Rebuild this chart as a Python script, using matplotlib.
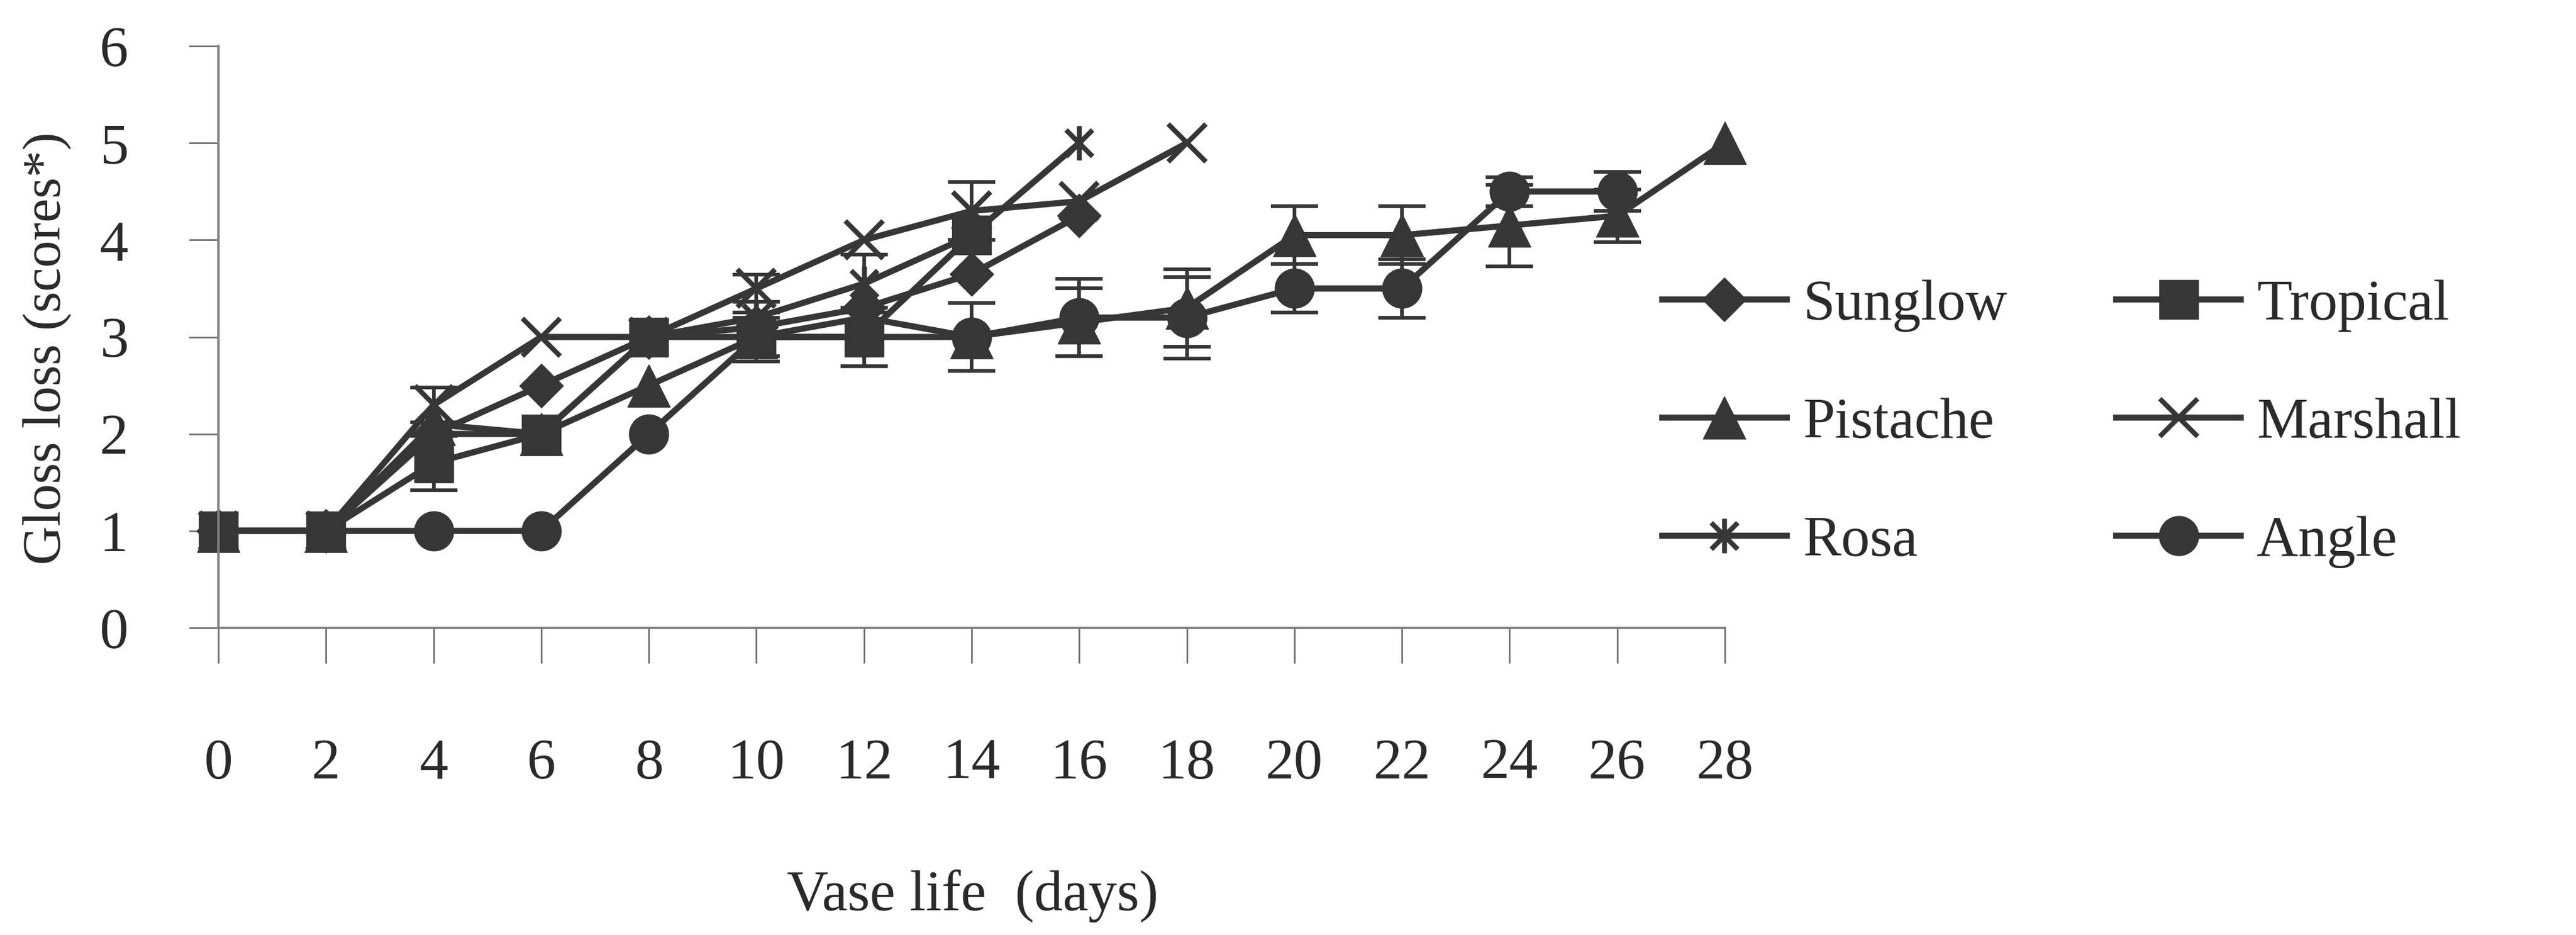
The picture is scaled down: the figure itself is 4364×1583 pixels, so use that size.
import numpy as np
import matplotlib.pyplot as plt
from matplotlib.path import Path

plt.rcParams['font.family'] = ['Liberation Serif', 'DejaVu Serif']

# vase life (days)
days = [0, 2, 4, 6, 8, 10, 12, 14, 16, 18, 20, 22, 24, 26, 28]

sunglow = [1, 1, 2.0, 2.5, 3.0, 3.1, 3.3, 3.65, 4.25]
tropical = [1, 1, 1.7, 2.0, 3.0, 3.0, 3.0, 4.05]
pistache = [1, 1, 2.1, 2.0, 2.5, 3.0, 3.2, 3.0, 3.15, 3.3, 4.05, 4.05, 4.15, 4.25, 5.0]
marshall = [1, 1, 2.3, 3.0, 3.0, 3.5, 4.0, 4.3, 4.4, 5.0]
rosa = [1, 1, 2.0, 2.0, 3.0, 3.2, 3.55, 4.05, 5.0]
angle = [1, 1, 1, 1, 2.0, 3.0, 3.0, 3.0, 3.2, 3.2, 3.5, 3.5, 4.5, 4.5]

# error bars (0 = none drawn)
sunglow_err = [0, 0, 0, 0, 0, 0, 0, 0, 0]
tropical_err = [0, 0, 0.28, 0, 0, 0.2, 0.3, 0]
pistache_err = [0, 0, 0, 0, 0, 0, 0, 0, 0.35, 0.4, 0.3, 0.3, 0.42, 0.27, 0]
marshall_err = [0, 0, 0.18, 0, 0, 0.14, 0, 0.3, 0, 0]
rosa_err = [0, 0, 0, 0, 0, 0, 0.3, 0, 0]
angle_err = [0, 0, 0, 0, 0, 0.25, 0.3, 0.35, 0.4, 0.42, 0.25, 0.3, 0.15, 0.2]

names = ['Sunglow', 'Tropical', 'Pistache', 'Marshall', 'Rosa', 'Angle']

# asterisk marker: an x plus a vertical bar
star = Path([(-1, -1), (1, 1), (-1, 1), (1, -1), (0, -1.3), (0, 1.3)],
            [Path.MOVETO, Path.LINETO, Path.MOVETO, Path.LINETO, Path.MOVETO, Path.LINETO])

col = '#363636'
styles = {
    'Sunglow': dict(marker='D', ms=38, mfc=col, mec=col),
    'Tropical': dict(marker='s', ms=48, mfc=col, mec=col),
    'Pistache': dict(marker='^', ms=52, mfc=col, mec=col),
    'Marshall': dict(marker='x', ms=46, mec=col, mew=6),
    'Rosa': dict(marker=star, ms=42, mfc='none', mec=col, mew=6),
    'Angle': dict(marker='o', ms=48, mfc=col, mec=col),
}
series = {'Sunglow': (sunglow, sunglow_err), 'Tropical': (tropical, tropical_err),
          'Pistache': (pistache, pistache_err), 'Marshall': (marshall, marshall_err),
          'Rosa': (rosa, rosa_err), 'Angle': (angle, angle_err)}

fig = plt.figure(figsize=(43.64, 15.83), dpi=100)
ax = fig.add_axes([370 / 4364, 1 - 1063 / 1583, (2922 - 370) / 4364, (1063 - 78) / 1583])

handles = {}
for name in names:
    vals, err = series[name]
    x = np.array(days[:len(vals)])
    y = np.array(vals)
    e = np.array(err)
    ln, = ax.plot(x, y, color=col, lw=7.5, clip_on=False, label=name, **styles[name])
    handles[name] = ln
    m = e > 0
    ax.errorbar(x[m], y[m], yerr=e[m], fmt='none', ecolor=col, elinewidth=4.5,
                capsize=29, capthick=4.5, clip_on=False)

ax.set_xlim(0, 28)
ax.set_ylim(0, 6)
ax.set_xticks(days)
ax.set_yticks(range(7))

for s in ['top', 'right']:
    ax.spines[s].set_visible(False)
for s in ['left', 'bottom']:
    ax.spines[s].set_color('#808080')
    ax.spines[s].set_linewidth(3)

ax.tick_params(axis='x', direction='out', length=43, width=2, color='#707070',
               pad=92, labelsize=70, labelcolor='#2a2a2a')
ax.tick_params(axis='y', direction='out', length=36, width=2, color='#707070',
               pad=74, labelsize=70, labelcolor='#2a2a2a')

fig.text(80 / 4364, 1 - 590 / 1583, 'Gloss loss (scores*)', rotation=90,
         ha='center', va='center', fontsize=66, color='#2a2a2a')
fig.text(1648 / 4364, 1 - 1517 / 1583, 'Vase life  (days)',
         ha='center', va='center', fontsize=70, color='#2a2a2a')

order = ['Sunglow', 'Pistache', 'Rosa', 'Tropical', 'Marshall', 'Angle']
fig.legend([handles[n] for n in order], order, ncol=2, frameon=False,
           loc='upper left', bbox_to_anchor=(2816 / 4364, 1 - 473 / 1583),
           borderpad=0, borderaxespad=0, fontsize=70, handlelength=2.17,
           handletextpad=0.28, columnspacing=1.9, labelspacing=1.14,
           labelcolor='#2a2a2a')

fig.savefig('out.png', dpi=100, facecolor='white')
